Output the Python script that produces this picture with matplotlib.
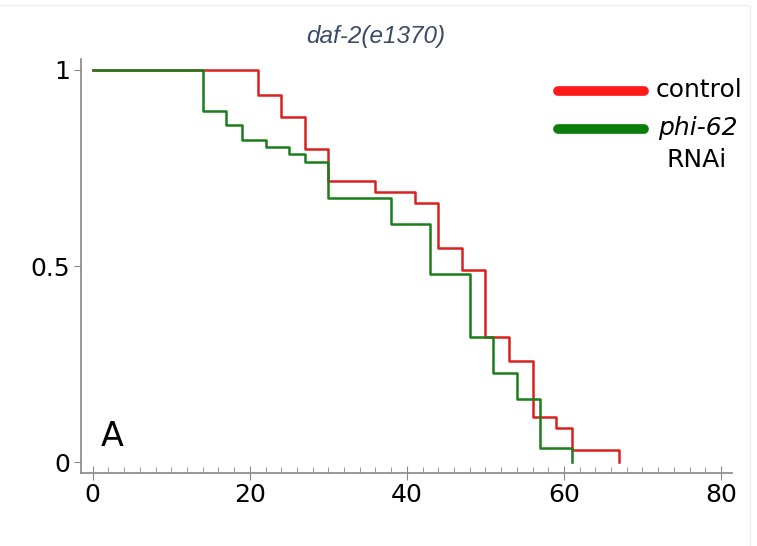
import matplotlib.pyplot as plt
from matplotlib.patches import Rectangle

# survival data (days, fraction alive)
control_days = [0, 21, 24, 27, 30, 36, 41, 44, 47, 50, 53, 56, 59, 61, 67]
control_surv = [1, 0.936, 0.880, 0.798, 0.717, 0.690, 0.661, 0.546, 0.490,
                0.319, 0.258, 0.115, 0.087, 0.031, 0]
rnai_days = [0, 14, 17, 19, 22, 25, 27, 30, 38, 43, 48, 51, 54, 57, 61]
rnai_surv = [1, 0.895, 0.860, 0.821, 0.804, 0.786, 0.766, 0.673, 0.607,
             0.480, 0.319, 0.227, 0.161, 0.036, 0]

x_ticks = [0, 20, 40, 60, 80]
y_ticks = [0, 0.5, 1]
y_ticklabels = ["0", "0.5", "1"]

W, H = 757, 546
fig = plt.figure(figsize=(W / 100, H / 100), dpi=100)
ax = fig.add_axes([81 / W, 1 - 473 / H, (732 - 81) / W, (473 - 59) / H])

ax.step(control_days, control_surv, where="post", color="#d9211f", lw=1.8)
ax.step(rnai_days, rnai_surv, where="post", color="#1b7d1b", lw=1.8)

ax.set_xlim(-1.5, 81.4)
ax.set_ylim(-0.028, 1.028)

for s in ["top", "right"]:
    ax.spines[s].set_visible(False)
for s in ["left", "bottom"]:
    ax.spines[s].set_color("#888888")
    ax.spines[s].set_linewidth(1.2)

ax.set_xticks(x_ticks)
ax.set_xticks(range(0, 81, 2), minor=True)
ax.set_yticks(y_ticks)
ax.set_yticklabels(y_ticklabels)
ax.tick_params(axis="x", which="major", direction="inout", length=10,
               color="#888888", labelsize=18, pad=2)
ax.tick_params(axis="x", which="minor", direction="in", length=4,
               color="#888888")
ax.tick_params(axis="y", which="major", direction="out", length=5,
               color="#888888", labelsize=18, pad=3)

ax.text(0.048, 0.088, "A", transform=ax.transAxes, fontsize=24,
        ha="center", va="center")

# legend drawn by hand
def px(x, y):
    return x / W, 1 - y / H

fig.add_artist(plt.Line2D([558 / W, 644 / W], [1 - 91 / H] * 2, color="#ff1a1a",
                          lw=7, solid_capstyle="round"))
fig.add_artist(plt.Line2D([558 / W, 644 / W], [1 - 129 / H] * 2, color="#0b7d0b",
                          lw=7, solid_capstyle="round"))
fig.text(*px(656, 90), "control", fontsize=18, ha="left", va="center")
fig.text(*px(658, 128), "phi-62", fontsize=18, ha="left", va="center",
         style="italic")
fig.text(*px(697, 160), "RNAi", fontsize=18, ha="center", va="center")

fig.text(*px(376, 36), "daf-2(e1370)", fontsize=17.5, ha="center", va="center",
         style="italic", color="#3b4a68", family="Liberation Sans")

# faint panel border
fig.add_artist(Rectangle((-0.01, -0.01), (750 + 7.57) / W, 1 - 5 / H + 0.01,
                         transform=fig.transFigure, fill=False,
                         edgecolor="#eeeeee", lw=1))

fig.savefig("out.png", dpi=100)
